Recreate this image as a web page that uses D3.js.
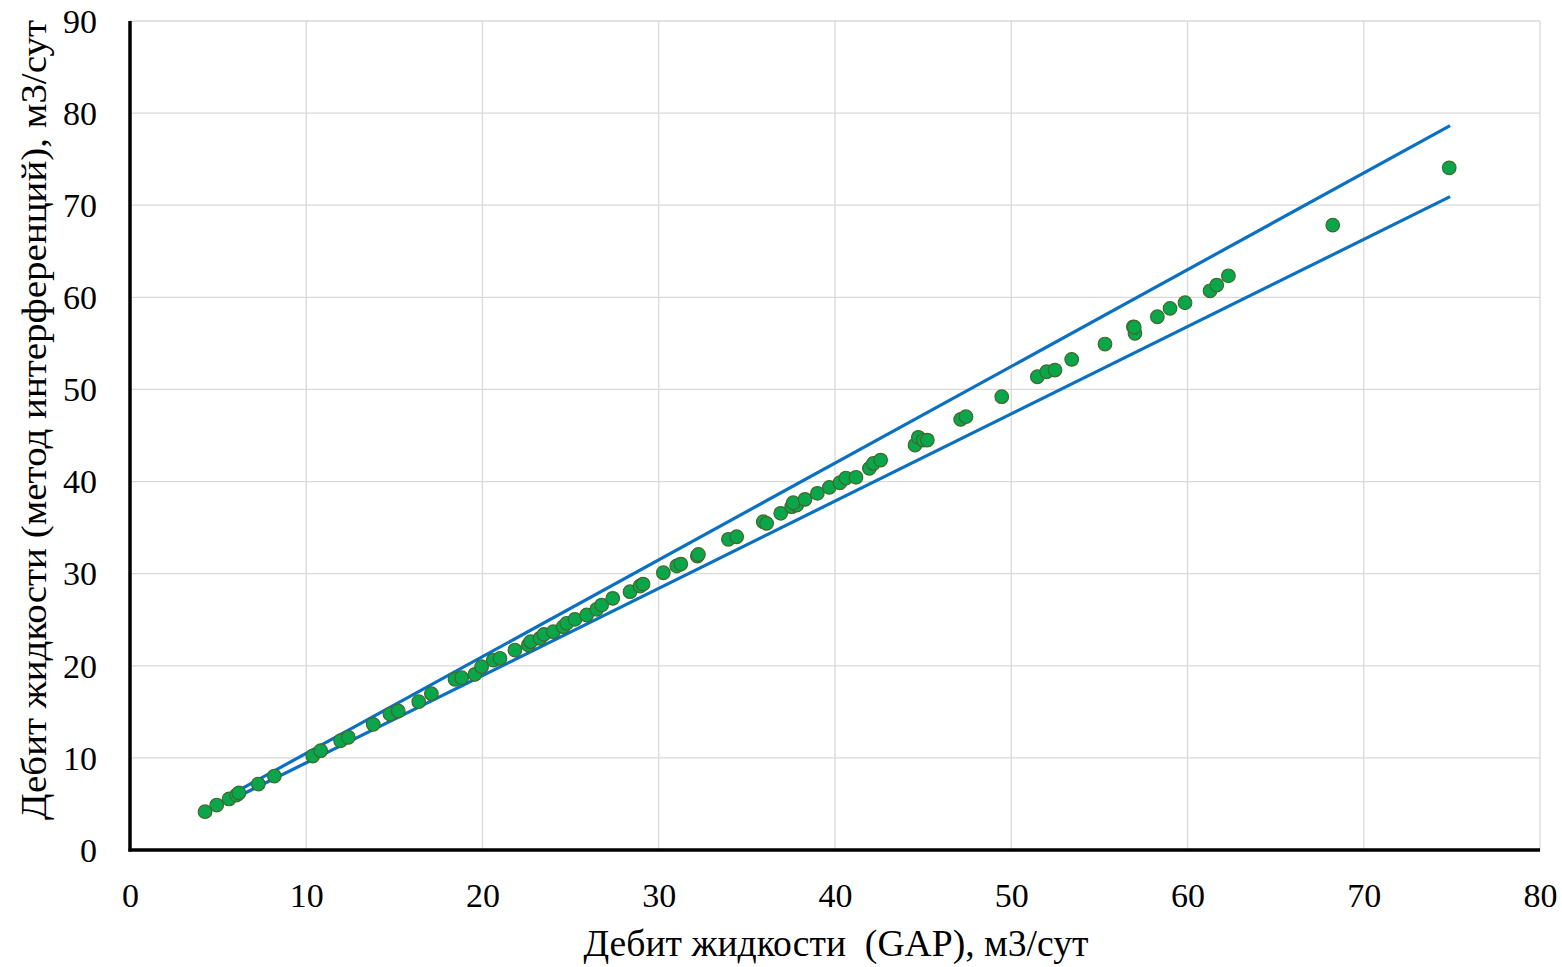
<!DOCTYPE html>
<html>
<head>
<meta charset="utf-8">
<script src="https://cdn.jsdelivr.net/npm/d3@7"></script>
<style>
html,body{margin:0;padding:0;background:#fff;}
svg text{font-family:"Liberation Serif","Times New Roman",serif;fill:#000;white-space:pre;}
</style>
</head>
<body>
<svg id="chart" width="1562" height="967"></svg>
<script>
// GAP liquid rate (x) vs interference method liquid rate (y), m3/day
const gapRate = [4.26,4.92,5.62,6.05,6.18,7.28,8.19,10.37,10.82,11.95,12.39,13.80,14.75,15.22,16.38,17.10,
  18.44,18.82,19.57,19.95,20.61,20.99,21.84,22.60,22.73,23.26,23.49,24.02,24.58,24.78,25.25,25.91,26.48,26.76,27.39,
  28.37,28.94,29.11,30.26,31.02,31.25,32.19,32.25,33.95,34.42,35.93,36.12,36.92,37.54,37.83,37.63,38.30,39.00,39.68,
  40.28,40.62,41.19,41.95,42.18,42.59,44.54,44.73,45.01,45.24,47.13,47.43,49.46,51.48,52.01,52.48,53.43,55.32,
  56.93,57.02,56.98,58.29,59.01,59.86,61.28,61.66,62.32,68.24,74.85];
const interfRate = [4.16,4.88,5.54,5.97,6.19,7.16,8.03,10.20,10.78,11.86,12.23,13.64,14.76,15.09,16.10,16.97,
  18.53,18.70,19.07,19.90,20.62,20.81,21.71,22.25,22.61,22.98,23.41,23.70,24.24,24.61,25.04,25.51,26.13,26.59,27.32,
  28.04,28.66,28.87,30.10,30.83,31.04,31.91,32.08,33.73,34.01,35.64,35.46,36.55,37.27,37.45,37.70,38.07,38.72,39.37,
  39.87,40.38,40.46,41.43,41.97,42.33,43.96,44.80,44.50,44.50,46.75,47.04,49.21,51.38,51.92,52.10,53.26,54.93,
  56.80,56.09,56.75,57.89,58.80,59.41,60.71,61.33,62.34,67.84,74.06];
// ±5% deviation bounds
const boundX = [5.9, 74.9];
const upperFactor = 1.05;
const lowerFactor = 0.947;
const xTicks = [0,10,20,30,40,50,60,70,80];
const yTicks = [0,10,20,30,40,50,60,70,80,90];
const xTitle = "Дебит жидкости  (GAP), м3/сут";
const yTitle = "Дебит жидкости (метод интерференций), м3/сут";

const svg = d3.select("#chart");
const L = 130, R = 1540, T = 21, B = 850;
const x = d3.scaleLinear().domain([0,80]).range([L,R]);
const y = d3.scaleLinear().domain([0,90]).range([B,T]);

// gridlines
svg.append("g").selectAll("line").data(xTicks.slice(1)).join("line")
  .attr("x1",d=>x(d)).attr("x2",d=>x(d)).attr("y1",T).attr("y2",B)
  .attr("stroke","#d9d9d9").attr("stroke-width",1.3);
svg.append("g").selectAll("line").data(yTicks.slice(1)).join("line")
  .attr("x1",L).attr("x2",R).attr("y1",d=>y(d)).attr("y2",d=>y(d))
  .attr("stroke","#d9d9d9").attr("stroke-width",1.3);

// axes via d3 axis (labels only, no tick marks)
const gx = svg.append("g").attr("transform",`translate(0,${B})`)
  .attr("font-family",null)
  .call(d3.axisBottom(x).tickValues(xTicks).tickSize(0).tickPadding(0));
gx.attr("font-family",null).attr("font-size",null);
gx.select(".domain").remove();
gx.selectAll("text").attr("font-size",34).attr("y",57).attr("dy",0);
const gy = svg.append("g").attr("transform",`translate(${L},0)`)
  .call(d3.axisLeft(y).tickValues(yTicks).tickSize(0).tickPadding(0));
gy.attr("font-family",null).attr("font-size",null);
gy.select(".domain").remove();
gy.selectAll("text").attr("font-size",34).attr("x",-33).attr("dy","0.33em");

// bound lines
const line = d3.line().x(d=>x(d[0])).y(d=>y(d[1]));
svg.append("path").datum(boundX.map(v=>[v,v*upperFactor])).attr("d",line)
  .attr("fill","none").attr("stroke","#0a70c2").attr("stroke-width",3.2);
svg.append("path").datum(boundX.map(v=>[v,v*lowerFactor])).attr("d",line)
  .attr("fill","none").attr("stroke","#0a70c2").attr("stroke-width",3.2);

// axis lines
svg.append("line").attr("x1",L).attr("x2",L).attr("y1",T).attr("y2",B+1.5)
  .attr("stroke","#000").attr("stroke-width",3.5);
svg.append("line").attr("x1",L-1.5).attr("x2",R).attr("y1",B).attr("y2",B)
  .attr("stroke","#000").attr("stroke-width",3.5);

// points
svg.append("g").selectAll("circle").data(gapRate.map((v,i)=>[v,interfRate[i]])).join("circle")
  .attr("cx",d=>x(d[0])).attr("cy",d=>y(d[1])).attr("r",6.8)
  .attr("fill","#0aa64b").attr("stroke","#41692b").attr("stroke-width",1.2);

// titles
svg.append("text").attr("x",836).attr("y",956).attr("text-anchor","middle")
  .attr("font-size",37).attr("textLength",505).attr("lengthAdjust","spacingAndGlyphs").text(xTitle);
svg.append("text").attr("transform","translate(46,420) rotate(-90)").attr("text-anchor","middle")
  .attr("font-size",36).attr("textLength",800).attr("lengthAdjust","spacingAndGlyphs").text(yTitle);
</script>
</body>
</html>
